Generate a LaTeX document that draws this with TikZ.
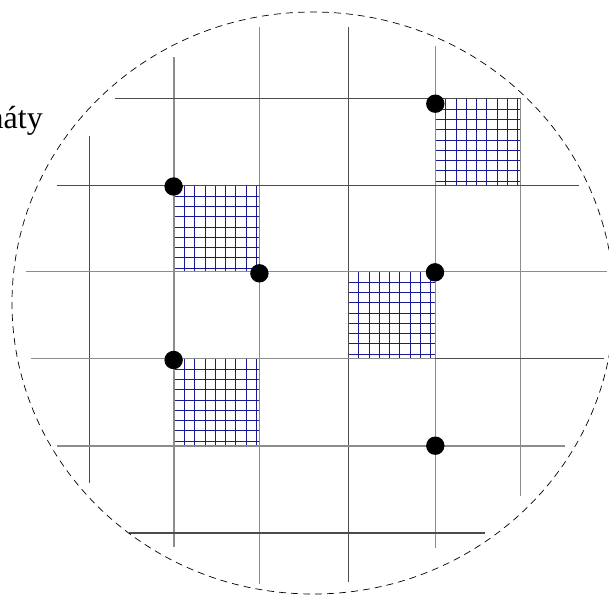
\documentclass[tikz,border=0pt]{standalone}
\usepackage{fontspec}
\setmainfont{Liberation Serif}
\definecolor{meshblue}{RGB}{25,25,150}
\begin{document}
\begin{tikzpicture}[x=1pt,y=-1pt,
  darkline/.style={line width=1.1pt, draw=black!70},
  grayline/.style={line width=1.1pt, draw=black!45},
  fineline/.style={line width=0.8pt, draw=meshblue},
  dot/.style={fill=black, draw=none},
  rim/.style={dashed, dash pattern=on 7pt off 5pt, line width=0.7pt, draw=black}]
\useasboundingbox (0,0) rectangle (609,595);
\clip (0,0) rectangle (609,595);
% fine blue meshes
\foreach \sx/\sy/\ex/\ey in {174/185.7/259.4/271.7, 174/358.7/259.4/446, 348.3/271.7/435.3/358.7, 435.3/98.7/520.8/185.7}{
  \foreach \i in {0,...,8}{
    \draw[fineline] (\sx+\i*10.3,\sy) -- (\sx+\i*10.3,\ey);
    \draw[fineline] (\sx,\sy+\i*10.3) -- (\ex,\sy+\i*10.3);
  }
}
% vertical lines
\draw[darkline] (89.7,136) -- (89.7,483);
\draw[grayline] (174,57) -- (174,547);
\draw[grayline] (259.4,27) -- (259.4,584);
\draw[darkline] (348.3,27) -- (348.3,582);
\draw[grayline] (435.3,46) -- (435.3,548);
\draw[grayline] (520.8,98.7) -- (520.8,496);
% horizontal lines
\draw[darkline] (115,98.7) -- (520.8,98.7);
\draw[darkline] (57,185.7) -- (579,185.7);
\draw[grayline] (26,271.7) -- (607,271.7);
\draw[grayline] (31,358.7) -- (435.3,358.7);
\draw[darkline] (435.3,358.7) -- (604,358.7);
\draw[grayline] (57,446) -- (565,446);
\draw[darkline] (129,533) -- (485,533);
% wafer rim
\draw[rim] (313,303) ellipse [x radius=301, y radius=291];
% dots
\foreach \px/\py in {435.3/103.7, 173.6/186.5, 259.4/273.3, 435/272.3, 173.6/360, 435.3/445.7}{
  \fill[dot] (\px,\py) circle [radius=9.2];
}
% label (cut off at the left edge, as in the reference)
\node[anchor=base east, inner sep=0pt, font=\fontsize{32}{38}\selectfont] (lbl) at (43,128) {náty};
\end{tikzpicture}
\end{document}
